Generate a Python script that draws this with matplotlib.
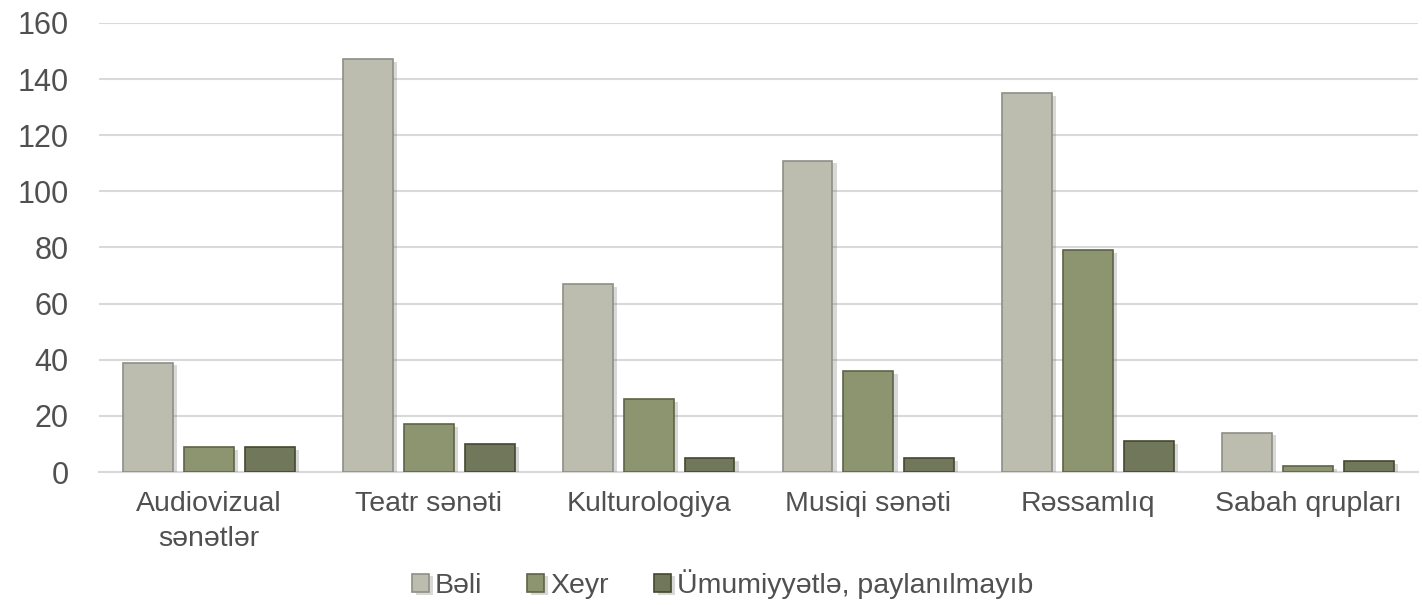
import matplotlib.pyplot as plt
import matplotlib.patheffects as pe
import numpy as np

plt.rcParams['font.family'] = ['Liberation Sans', 'DejaVu Sans']

kateqoriyalar = ['Audiovizual\nsənətlər', 'Teatr sənəti', 'Kulturologiya',
                 'Musiqi sənəti', 'Rəssamlıq', 'Sabah qrupları']
seriyalar = ['Bəli', 'Xeyr', 'Ümumiyyətlə, paylanılmayıb']
beli = [39, 147, 67, 111, 135, 14]
xeyr = [9, 17, 26, 36, 79, 2]
umumiyyetle = [9, 10, 5, 5, 11, 4]

rengler = ['#BCBDAE', '#8C9470', '#71775A']
kenarlar = ['#8E8F86', '#5E6448', '#44482F']


def main():
    fig = plt.figure(figsize=(14.22, 6.05), dpi=100)
    ax = fig.add_axes([99 / 1422, 1 - 472 / 605, 1319 / 1422, 449 / 605])

    x = np.arange(len(kateqoriyalar))
    addim = 0.277
    en = 0.227
    kolge = [pe.SimplePatchShadow(offset=(3, -2), shadow_rgbFace='#666666', alpha=0.25),
             pe.Normal()]

    for i, (ad, deyerler) in enumerate(zip(seriyalar, [beli, xeyr, umumiyyetle])):
        bars = ax.bar(x + (i - 1) * addim, deyerler, width=en, color=rengler[i],
                      edgecolor=kenarlar[i], linewidth=1.2, label=ad, zorder=3)
        for b in bars:
            b.set_path_effects(kolge)

    ax.set_xlim(-0.5, len(kateqoriyalar) - 0.5)
    ax.set_ylim(0, 160)
    ax.set_yticks(range(0, 161, 20))
    ax.yaxis.grid(True, color='#D9D9D9', linewidth=1.5, zorder=0)
    ax.set_axisbelow(True)
    for s in ['top', 'right', 'left']:
        ax.spines[s].set_visible(False)
    ax.spines['bottom'].set_color('#D9D9D9')
    ax.spines['bottom'].set_linewidth(1.5)

    ax.set_xticks(x)
    ax.set_xticklabels(kateqoriyalar, fontsize=20.5, color='#505050', linespacing=1.45)
    ax.tick_params(axis='x', length=0, pad=14)
    ax.tick_params(axis='y', length=0, pad=22, labelsize=22, labelcolor='#505050')

    fig.legend(loc='center', bbox_to_anchor=(0.508, 0.035), ncol=3, frameon=False,
               fontsize=20.5, handlelength=0.6, handleheight=0.6, handletextpad=0.2,
               columnspacing=1.6, labelcolor='#505050')

    fig.savefig('out.png', dpi=100)


if __name__ == "__main__":
    main()
